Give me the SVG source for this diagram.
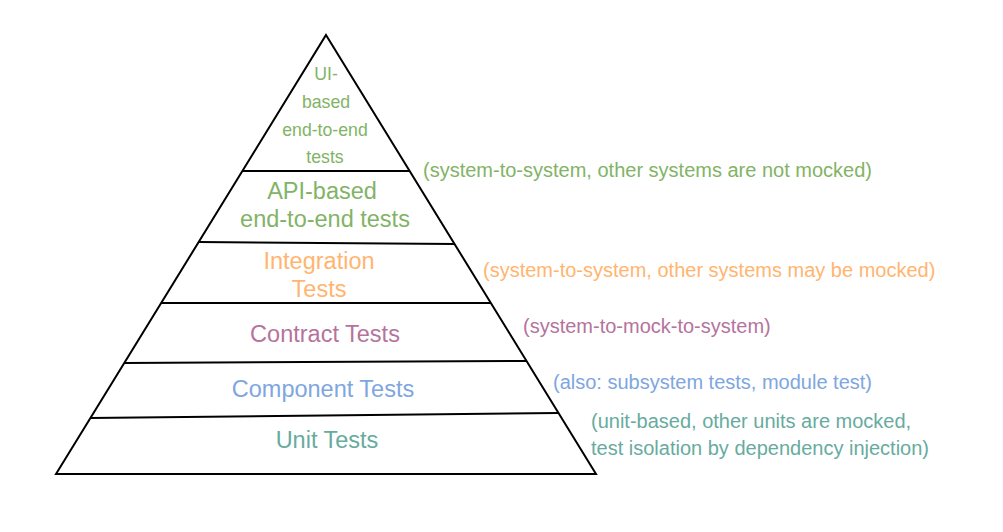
<svg xmlns="http://www.w3.org/2000/svg" width="1003" height="532" viewBox="0 0 1003 532">
<style>
.sh{fill:none;stroke:#000;stroke-width:2;stroke-linejoin:miter}
text{font-family:"Liberation Sans",Arial,Helvetica,sans-serif}
.m{font-size:23.5px;text-anchor:middle}
.u{font-size:17.7px;text-anchor:middle}
.r{font-size:20px}
.g{fill:#82B366}.o{fill:#FFB570}.p{fill:#B5739D}.b{fill:#7EA6E0}.t{fill:#67AB9F}
</style>
<rect width="1003" height="532" fill="#fff"/>
<g id="pyramid">
<polygon class="sh" points="326,35 596,474 56,474"/>
</g>
<g id="connectors">
<line class="sh" x1="242" y1="171" x2="409" y2="171"/>
<line class="sh" x1="199" y1="242" x2="455" y2="244"/>
<line class="sh" x1="161" y1="303" x2="491" y2="303"/>
<line class="sh" x1="124" y1="363" x2="527" y2="361"/>
<line class="sh" x1="90" y1="418" x2="558" y2="413"/>
</g>
<g id="ui-tests">
<text class="u g" x="326" y="80">UI-</text>
<text class="u g" x="326" y="108">based</text>
<text class="u g" x="325" y="136">end-to-end</text>
<text class="u g" x="325" y="163">tests</text>
<text class="r g" x="423" y="177">(system-to-system, other systems are not mocked)</text>
</g>
<g id="api-tests">
<text class="m g" x="322" y="199">API-based</text>
<text class="m g" x="325" y="227">end-to-end tests</text>
</g>
<g id="integration-tests">
<text class="m o" x="319" y="269">Integration</text>
<text class="m o" x="319" y="297">Tests</text>
<text class="r o" x="483" y="277">(system-to-system, other systems may be mocked)</text>
</g>
<g id="contract-tests">
<text class="m p" x="325" y="342">Contract Tests</text>
<text class="r p" x="523" y="333">(system-to-mock-to-system)</text>
</g>
<g id="component-tests">
<text class="m b" x="323" y="397">Component Tests</text>
<text class="r b" x="553" y="389">(also: subsystem tests, module test)</text>
</g>
<g id="unit-tests">
<text class="m t" x="327" y="448">Unit Tests</text>
<text class="r t" x="591" y="428">(unit-based, other units are mocked,</text>
<text class="r t" x="591" y="455">test isolation by dependency injection)</text>
</g>
</svg>
